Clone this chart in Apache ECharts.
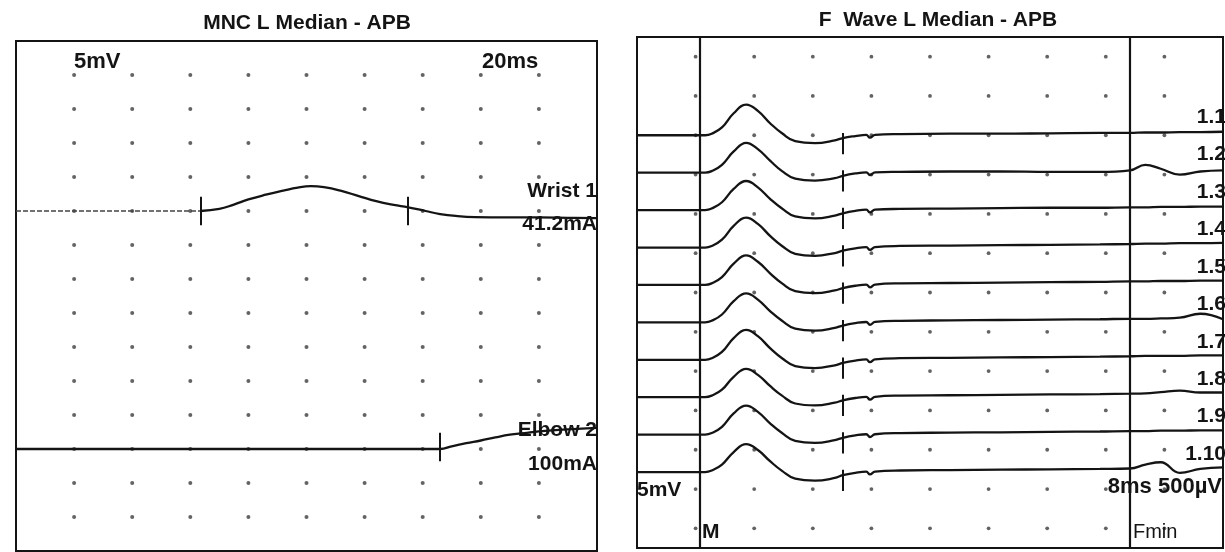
<!DOCTYPE html>
<html><head><meta charset="utf-8">
<script src="https://cdn.jsdelivr.net/npm/echarts@6/dist/echarts.min.js"></script>
<style>html,body{margin:0;padding:0;background:#fff}#c{width:1225px;height:552px}</style>
</head><body><div id="c"></div>
<script>
// ---------- Left panel: MNC L Median - APB (x: ms, 2 ms/div; y: mV, 5 mV/div) ----------
const wristTime = [0, 6.35, 7.0, 7.5, 8.0, 8.6, 9.2, 9.7, 10.15, 10.6, 11.2, 11.8, 12.4, 13.0, 13.5, 14.1, 14.6, 15.2, 15.8, 16.9, 18.0, 19.0, 20.0];
const wristAmp  = [0, 0, 0.3, 0.95, 1.7, 2.4, 3.0, 3.45, 3.65, 3.5, 2.95, 2.2, 1.45, 0.9, 0.55, 0.0, -0.45, -0.75, -0.9, -0.95, -0.95, -1.0, -1.05];
const wristMarks = [6.35, 13.5];
const elbowTime = [0, 14.6, 15.0, 15.5, 16.0, 16.5, 17.0, 17.5, 18.0, 19.0, 20.0];
const elbowAmp  = [0, 0, 0.4, 0.85, 1.25, 1.7, 2.1, 2.35, 2.6, 2.9, 3.1];
const elbowMarks = [14.6];
const leftTexts = { title: 'MNC L Median - APB', gain: '5mV', sweep: '20ms', wrist: ['Wrist 1', '41.2mA'], elbow: ['Elbow 2', '100mA'] };

// ---------- Right panel: F Wave L Median - APB (x: ms; y: mV on the M-wave scale) ----------
const fTime = [0, 9.3, 10.2, 11.6, 13.2, 14.9, 16.5, 18.2, 19.8, 21.6, 24.3, 27.0, 28.1, 29.8, 31.3, 31.8, 32.5, 35.9, 42.7, 49.6, 56.4, 63.2, 67.3, 69.4, 71.5, 74.1, 76.9, 80];
const f1  = [0, 0, 0.2, 1.0, 2.8, 3.9, 3.1, 1.5, 0.25, -0.75, -1.0, -0.65, -0.35, -0.1, 0.05, -0.3, 0.05, 0.15, 0.2, 0.2, 0.25, 0.3, 0.3, 0.35, 0.35, 0.4, 0.4, 0.45];
const f2  = [0, 0, 0.2, 1.0, 2.7, 3.8, 3.0, 1.5, 0.2, -0.75, -1.0, -0.7, -0.4, -0.1, 0.05, -0.3, 0.05, 0.1, 0.15, 0.15, 0.1, 0.1, 0.3, 1.0, 0.5, -0.25, 0.15, 0.3];
const f3  = [0, 0, 0.2, 1.0, 2.7, 3.7, 2.9, 1.4, 0.2, -0.8, -1.05, -0.7, -0.4, -0.1, 0.05, -0.3, 0.05, 0.15, 0.2, 0.25, 0.3, 0.3, 0.35, 0.35, 0.4, 0.4, 0.45, 0.45];
const f4  = [0, 0, 0.2, 1.0, 2.75, 3.8, 3.0, 1.45, 0.2, -0.8, -1.05, -0.7, -0.4, -0.1, 0.05, -0.3, 0.05, 0.2, 0.25, 0.3, 0.35, 0.4, 0.45, 0.5, 0.5, 0.55, 0.55, 0.6];
const f5  = [0, 0, 0.2, 1.0, 2.7, 3.75, 2.95, 1.45, 0.2, -0.8, -1.05, -0.7, -0.4, -0.1, 0.05, -0.3, 0.05, 0.2, 0.25, 0.3, 0.35, 0.4, 0.45, 0.45, 0.5, 0.5, 0.55, 0.55];
const f6  = [0, 0, 0.2, 1.0, 2.7, 3.7, 2.9, 1.4, 0.2, -0.8, -1.05, -0.7, -0.4, -0.1, 0.05, -0.3, 0.05, 0.2, 0.25, 0.3, 0.35, 0.4, 0.45, 0.45, 0.5, 0.6, 1.1, 0.4];
const f7  = [0, 0, 0.2, 1.0, 2.75, 3.8, 3.0, 1.45, 0.2, -0.8, -1.05, -0.7, -0.4, -0.1, 0.05, -0.3, 0.05, 0.2, 0.25, 0.3, 0.35, 0.4, 0.45, 0.5, 0.5, 0.5, 0.55, 0.55];
const f8  = [0, 0, 0.2, 0.95, 2.6, 3.6, 2.85, 1.4, 0.2, -0.8, -1.05, -0.7, -0.4, -0.1, 0.05, -0.3, 0.05, 0.2, 0.25, 0.3, 0.35, 0.4, 0.45, 0.5, 0.65, 0.85, 0.6, 0.6];
const f9  = [0, 0, 0.2, 1.0, 2.7, 3.7, 2.9, 1.4, 0.2, -0.8, -1.05, -0.7, -0.4, -0.1, 0.05, -0.3, 0.05, 0.2, 0.25, 0.3, 0.35, 0.4, 0.45, 0.45, 0.5, 0.5, 0.55, 0.55];
const f10 = [0, 0, 0.2, 0.95, 2.55, 3.55, 2.8, 1.35, 0.15, -0.85, -1.1, -0.75, -0.4, -0.1, 0.05, -0.3, 0.05, 0.2, 0.25, 0.3, 0.35, 0.4, 0.45, 0.95, 1.25, -0.1, 0.4, 0.6];
const fTraces = [f1, f2, f3, f4, f5, f6, f7, f8, f9, f10];
const fLabels = ['1.1', '1.2', '1.3', '1.4', '1.5', '1.6', '1.7', '1.8', '1.9', '1.10'];
const fMarkTime = 28.1;      // marker tick on every trace
const mLatency = 8.6;        // "M" cursor
const fminLatency = 67.3;    // "Fmin" cursor
const rightTexts = { title: 'F  Wave L Median - APB', gain: '5mV', sweep: '8ms 500µV', m: 'M', fmin: 'Fmin' };

// ---------- layout constants ----------
const INK = '#141414';
const DOT = '#3c3c3c';
const FONT = 'Liberation Sans, Arial, sans-serif';
const WRIST_BASE = 50, ELBOW_BASE = 15;
const F_TOP = 52.5, F_STEP = 4.76;

const chart = echarts.init(document.getElementById('c'), null, { renderer: 'canvas' });

function trace(ax, times, amps, base, marks, up, down) {
  return {
    type: 'line', xAxisIndex: ax, yAxisIndex: ax, silent: true,
    data: times.map((t, i) => [t, base + amps[i]]),
    symbol: 'none', showSymbol: false, smooth: 0.45,
    lineStyle: { color: INK, width: 2.3 }, z: 4,
    markLine: {
      silent: true, symbol: ['none', 'none'], label: { show: false },
      lineStyle: { color: INK, width: 2, type: 'solid' },
      emphasis: { disabled: true },
      data: marks.map(t => [{ coord: [t, base + up] }, { coord: [t, base - down] }])
    }
  };
}

const dotsL = [];
for (let x = 2; x <= 18; x += 2) for (let y = 5; y <= 70; y += 5) dotsL.push([x, y]);
const dotsR = [];
for (let x = 8; x <= 72; x += 8) for (let y = 2.5; y <= 62.5; y += 5) dotsR.push([x, y]);

const series = [
  { type: 'scatter', xAxisIndex: 0, yAxisIndex: 0, data: dotsL, symbolSize: 4, itemStyle: { color: DOT }, silent: true, z: 2 },
  { type: 'scatter', xAxisIndex: 1, yAxisIndex: 1, data: dotsR, symbolSize: 3.8, itemStyle: { color: DOT }, silent: true, z: 2 },
  { type: 'line', xAxisIndex: 0, yAxisIndex: 0, silent: true, data: [[0, WRIST_BASE], [wristMarks[0], WRIST_BASE]],
    symbol: 'none', lineStyle: { color: '#444', width: 1.6, type: [5, 2] }, z: 3 },
  trace(0, wristTime.slice(1), wristAmp.slice(1), WRIST_BASE, wristMarks, 2.1, 2.1),
  trace(0, elbowTime, elbowAmp, ELBOW_BASE, elbowMarks, 2.4, 1.8)
];
fTraces.forEach((amps, i) => {
  const base = F_TOP - i * F_STEP;
  series.push(trace(1, fTime, amps, base, [fMarkTime], 0.3, 2.4));
});
// cursors
series.push({
  type: 'line', xAxisIndex: 1, yAxisIndex: 1, data: [], silent: true,
  markLine: {
    silent: true, symbol: ['none', 'none'], label: { show: false },
    lineStyle: { color: INK, width: 2.2, type: 'solid' }, emphasis: { disabled: true },
    data: [{ xAxis: mLatency }, { xAxis: fminLatency }]
  }
});

const option = {
  animation: false,
  backgroundColor: '#fff',
  grid: [
    { left: 16, top: 41, width: 581, height: 510, show: true, borderColor: INK, borderWidth: 2, backgroundColor: 'transparent' },
    { left: 637, top: 37, width: 586, height: 511, show: true, borderColor: INK, borderWidth: 2, backgroundColor: 'transparent' }
  ],
  xAxis: [
    { type: 'value', gridIndex: 0, min: 0, max: 20, interval: 2, show: false },
    { type: 'value', gridIndex: 1, min: 0, max: 80, interval: 8, show: false }
  ],
  yAxis: [
    { type: 'value', gridIndex: 0, min: 0, max: 75, interval: 5, show: false },
    { type: 'value', gridIndex: 1, min: 0, max: 65, interval: 5, show: false }
  ],
  series: series
};
chart.setOption(option);

function txt(text, x, y, align, size, weight) {
  return {
    type: 'text', x: x, y: y, silent: true, z: 10,
    style: {
      text: text, fill: INK, align: align, verticalAlign: 'middle',
      textAlign: align, textVerticalAlign: 'middle',
      font: (weight || 'bold') + ' ' + (size || 21) + 'px ' + FONT
    }
  };
}
const P = (ax, pt) => chart.convertToPixel({ xAxisIndex: ax, yAxisIndex: ax }, pt);
const g = [];
g.push(txt(leftTexts.title, 307, 23, 'center', 21));
g.push(txt(rightTexts.title, 938, 20, 'center', 21));
const tl = P(0, [0, 75]);
g.push(txt(leftTexts.gain, tl[0] + 58, tl[1] + 21, 'left', 22));
const tr = P(0, [20, 75]);
g.push(txt(leftTexts.sweep, tr[0] - 115, tr[1] + 21, 'left', 22));
const wp = P(0, [20, WRIST_BASE]);
g.push(txt(leftTexts.wrist[0], wp[0], wp[1] - 20, 'right', 21));
g.push(txt(leftTexts.wrist[1], wp[0], wp[1] + 13, 'right', 21));
const ep = P(0, [20, ELBOW_BASE]);
g.push(txt(leftTexts.elbow[0], ep[0], ep[1] - 19, 'right', 21));
g.push(txt(leftTexts.elbow[1], ep[0], ep[1] + 15, 'right', 21));
fLabels.forEach((lab, i) => {
  const p = P(1, [80, F_TOP - i * F_STEP]);
  g.push(txt(lab, p[0] + 3, p[1] - 18, 'right', 21));
});
const rb = P(1, [0, 0]);
g.push(txt(rightTexts.gain, rb[0], rb[1] - 58, 'left', 21));
const rr = P(1, [80, 0]);
g.push(txt(rightTexts.sweep, rr[0] - 1, rr[1] - 61, 'right', 22));
const mp = P(1, [mLatency, 0]);
g.push(txt(rightTexts.m, mp[0] + 2, mp[1] - 16, 'left', 21));
const fp = P(1, [fminLatency, 0]);
g.push(txt(rightTexts.fmin, fp[0] + 3, fp[1] - 16, 'left', 20, 'normal'));
chart.setOption({ graphic: g });
</script>
</body></html>
